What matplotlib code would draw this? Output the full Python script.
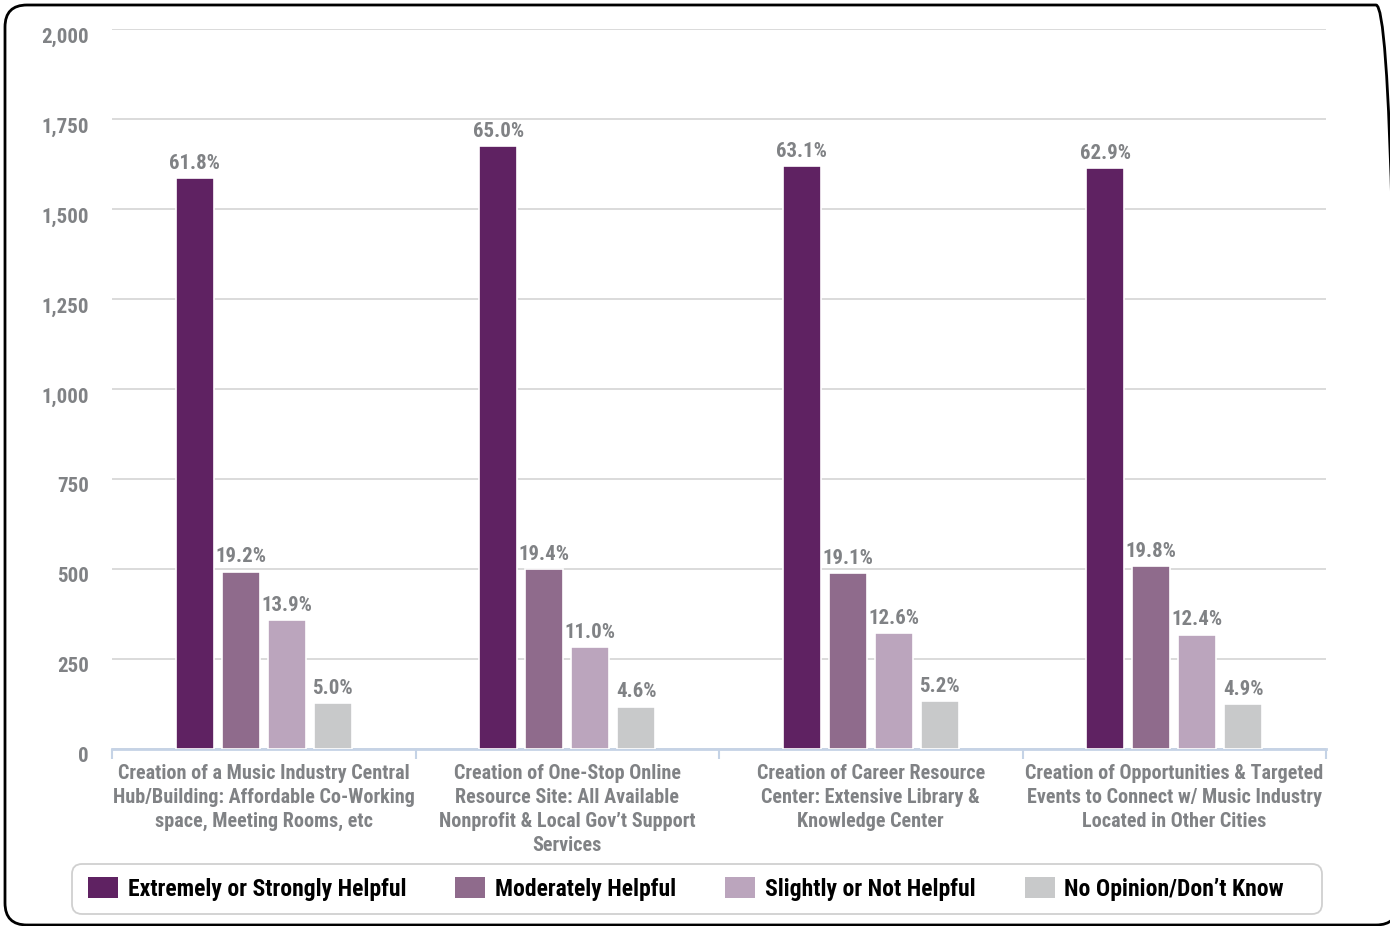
import matplotlib.pyplot as plt
from matplotlib.patches import FancyBboxPatch
from matplotlib.transforms import ScaledTranslation
import numpy as np

categories = [
    "Creation of a Music Industry Central\nHub/Building: Affordable Co-Working\nspace, Meeting Rooms, etc",
    "Creation of One-Stop Online\nResource Site: All Available\nNonprofit & Local Gov\u2019t Support\nServices",
    "Creation of Career Resource\nCenter: Extensive Library &\nKnowledge Center",
    "Creation of Opportunities & Targeted\nEvents to Connect w/ Music Industry\nLocated in Other Cities",
]
series_names = ["Extremely or Strongly Helpful", "Moderately Helpful",
                "Slightly or Not Helpful", "No Opinion/Don\u2019t Know"]
counts = [
    [1586, 1675, 1619, 1614],
    [493, 500, 490, 508],
    [357, 283, 323, 318],
    [128, 118, 133, 126],
]
pcts = [
    ["61.8%", "65.0%", "63.1%", "62.9%"],
    ["19.2%", "19.4%", "19.1%", "19.8%"],
    ["13.9%", "11.0%", "12.6%", "12.4%"],
    ["5.0%", "4.6%", "5.2%", "4.9%"],
]
colors = ["#5f2262", "#8f6b8c", "#bba5bd", "#c8c9ca"]

FONT = ["Roboto Condensed", "DejaVu Sans"]
plt.rcParams["font.family"] = FONT
plt.rcParams["font.weight"] = "bold"
GREY = "#808285"

W, H = 1390, 926
fig = plt.figure(figsize=(13.9, 9.26), dpi=100)
ax = fig.add_axes([112 / W, 1 - 749 / H, 1214 / W, 720 / H])

# outer rounded frame, in inches so the corners stay round; right edge sits just off the image
frame = FancyBboxPatch((0.05, 0.01), 13.93, 9.20,
                       boxstyle="round,pad=0,rounding_size=0.22",
                       transform=fig.dpi_scale_trans, fill=False,
                       edgecolor="black", linewidth=2)
fig.patches.append(frame)

# legend box (drawn separately so it can be wider than its contents)
legbox = FancyBboxPatch((0.72, 9.26 - 9.14), 12.50, 0.50,
                        boxstyle="round,pad=0,rounding_size=0.1",
                        transform=fig.dpi_scale_trans, facecolor="white",
                        edgecolor="#d0d0d0", linewidth=1.3)
fig.patches.append(legbox)

x = np.arange(len(categories))
step = 0.1516
bw = 0.124
for i in range(4):
    pos = x + (i - 1.5) * step
    bars = ax.bar(pos, counts[i], width=bw, color=colors[i], edgecolor="white",
                  linewidth=1.2, label=series_names[i], zorder=3)
    for b, t in zip(bars, pcts[i]):
        ax.text(b.get_x() + b.get_width() / 2, b.get_height() + 14, t,
                ha="center", va="bottom", fontsize=15, color=GREY,
                fontweight="bold")

ax.set_xlim(-0.5, 3.5)
ax.set_ylim(0, 2000)
ax.set_yticks(np.arange(0, 2001, 250))
ax.set_yticklabels([f"{v:,}" for v in range(0, 2001, 250)])
ax.grid(axis="y", color="#d4d4d4", linewidth=1.2, zorder=0)
ax.set_xticks(x)
ax.set_xticklabels(categories, fontsize=14.5, color=GREY, linespacing=1.34)
ax.set_xticks(np.arange(-0.5, 4, 1), minor=True)
ax.tick_params(axis="x", which="major", length=0, pad=10.5)
ax.tick_params(axis="x", which="minor", length=7, color="#c5d3e6", width=1.5)
ax.tick_params(axis="y", length=0, labelsize=15, labelcolor=GREY, pad=16.5)
shift = ScaledTranslation(0, -6 / 100, fig.dpi_scale_trans)
for lab in ax.get_yticklabels():
    lab.set_transform(lab.get_transform() + shift)
for s in ["top", "right", "left"]:
    ax.spines[s].set_visible(False)
ax.spines["bottom"].set_color("#c5d3e6")
ax.spines["bottom"].set_linewidth(2)

leg = fig.legend(loc="center left", bbox_to_anchor=(88 / W, 1 - 889 / H), ncol=4,
                 frameon=False,
                 prop={"family": FONT, "weight": "bold", "size": 17},
                 handlelength=1.27, handleheight=0.95, columnspacing=2.07,
                 borderpad=0, handletextpad=0.42, borderaxespad=0)
for p in leg.get_patches():
    p.set_edgecolor("none")

fig.savefig("out.png", dpi=100)
